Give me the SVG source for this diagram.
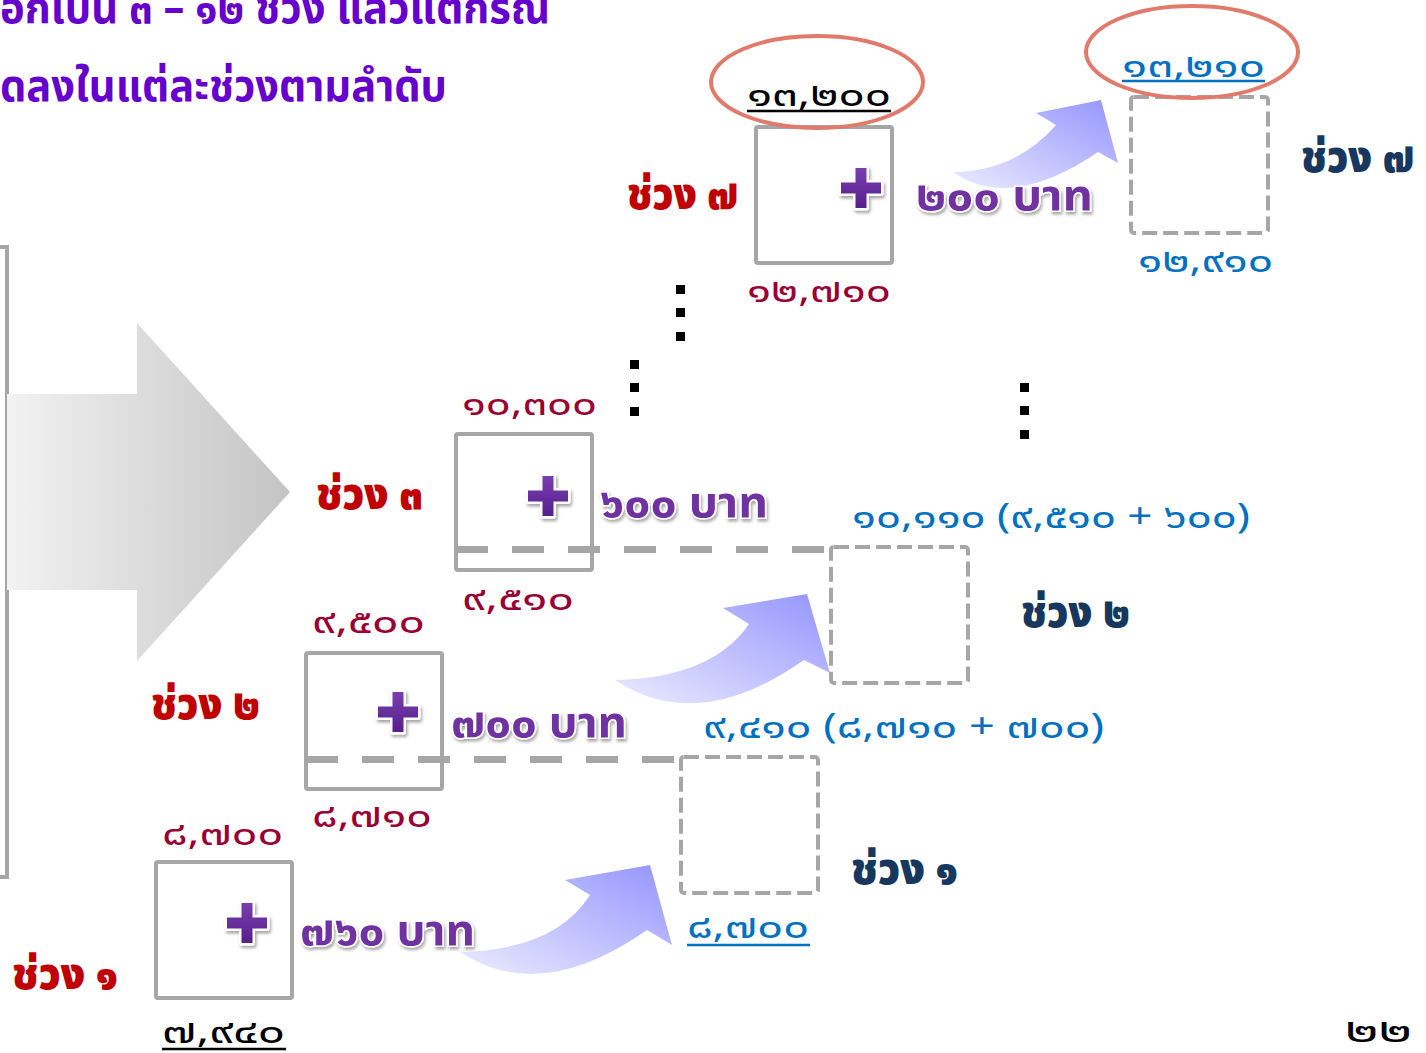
<svg xmlns="http://www.w3.org/2000/svg" width="1426" height="1053" viewBox="0 0 1426 1053">
<defs>
<style>
text{font-family:"Noto Sans Thai","Noto Sans Thai Looped","Loma","Garuda","Tlwg Typo","Noto Sans","DejaVu Sans",sans-serif;}
.title{fill:#6600CC;font-weight:bold;font-size:44px;}
.red{fill:#C00000;font-weight:900;font-size:44px;}
.navy{fill:#17375E;font-weight:900;font-size:44px;}
.mar{fill:#990033;font-size:34px;}
.blk{fill:#000;font-size:34px;}
.blu{fill:#0070C0;font-size:34px;}
.amt{fill:#7030A0;font-weight:bold;font-size:42px;stroke:#fff;stroke-width:3;paint-order:stroke;filter:url(#sh);}
.box{fill:none;stroke:#A6A6A6;stroke-width:4;}
.dbox{fill:none;stroke:#A6A6A6;stroke-width:4;stroke-dasharray:15 6;}
.dline{stroke:#A6A6A6;stroke-width:7;stroke-dasharray:32 24;}
.ell{fill:none;stroke:#E07A6A;stroke-width:4;}
.dot{fill:#000;}
.ul{stroke-width:2.5;}
</style>
<linearGradient id="gArrow" x1="0" y1="0" x2="1" y2="0">
<stop offset="0" stop-color="#F2F2F2"/>
<stop offset="1" stop-color="#C4C4C4"/>
</linearGradient>
<linearGradient id="gBlue" x1="0" y1="1" x2="1" y2="0">
<stop offset="0" stop-color="#EBEBFF"/>
<stop offset="1" stop-color="#9494FF"/>
</linearGradient>
<linearGradient id="gPlus" x1="0" y1="0" x2="0" y2="1">
<stop offset="0" stop-color="#7A3DB0"/>
<stop offset="1" stop-color="#56208A"/>
</linearGradient>
<filter id="sh" x="-20%" y="-20%" width="150%" height="150%">
<feDropShadow dx="1.5" dy="2.5" stdDeviation="1.5" flood-color="#000" flood-opacity="0.35"/>
</filter>
<g id="plus">
<path d="M-5.5,-20H5.5V-5.5H20V5.5H5.5V20H-5.5V5.5H-20V-5.5H-5.5Z" fill="url(#gPlus)" stroke="#fff" stroke-width="5" stroke-linejoin="round" paint-order="stroke" filter="url(#sh)"/>
</g>
</defs>
<rect width="1426" height="1053" fill="#fff"/>

<g id="title">
<text class="title" x="0" y="23" textLength="550" lengthAdjust="spacingAndGlyphs">อกเป็น ๓ – ๑๒ ช่วง แล้วแต่กรณี</text>
<text class="title" x="0" y="101" textLength="447" lengthAdjust="spacingAndGlyphs">ดลงในแต่ละช่วงตามลำดับ</text>
</g>

<g id="bracket">
<path d="M0,247H7V877H0" fill="none" stroke="#A6A6A6" stroke-width="4"/>
</g>

<g id="bigArrow">
<path d="M7,394H137V323L290,492L137,661V590H7Z" fill="url(#gArrow)"/>
</g>

<g id="connectors">
<line class="dline" x1="456" y1="549.5" x2="831" y2="549.5"/>
<line class="dline" x1="306" y1="759.5" x2="681" y2="759.5"/>
<path id="arrow1" d="M460,952Q555,950 590,895L565,880L650,865L672,945L647,930Q540,1005 460,952Z" fill="url(#gBlue)"/>
<path id="arrow2" d="M615,680Q712,678 749,624L723,608L807,594L830,673L804,660Q697,735 615,680Z" fill="url(#gBlue)"/>
<path id="arrow3" d="M953,172Q1016,171 1056,125L1036,113L1101,100L1118,163L1098,152Q1010,212 953,172Z" fill="url(#gBlue)"/>
</g>

<g id="node-step1">
<rect class="box" x="156" y="862" width="136" height="136" rx="2"/>
<use href="#plus" x="247" y="923"/>
<text class="red" x="12" y="989" textLength="106" lengthAdjust="spacingAndGlyphs">ช่วง ๑</text>
<text class="mar" x="162" y="845" textLength="121" lengthAdjust="spacingAndGlyphs">๘,๗๐๐</text>
<text class="blk" x="162" y="1043" font-size="31" textLength="123" lengthAdjust="spacingAndGlyphs">๗,๙๔๐</text>
<line class="ul" x1="162" y1="1049" x2="286" y2="1049" stroke="#000"/>
<text class="amt" x="300" y="945" textLength="175" lengthAdjust="spacingAndGlyphs">๗๖๐ บาท</text>
</g>

<g id="node-step2">
<rect class="box" x="306" y="653" width="136" height="136" rx="2"/>
<use href="#plus" x="398" y="712"/>
<text class="red" x="151" y="719" textLength="109" lengthAdjust="spacingAndGlyphs">ช่วง ๒</text>
<text class="mar" x="312" y="633" textLength="113" lengthAdjust="spacingAndGlyphs">๙,๕๐๐</text>
<text class="mar" x="312" y="827" textLength="120" lengthAdjust="spacingAndGlyphs">๘,๗๑๐</text>
<text class="amt" x="451" y="737" textLength="176" lengthAdjust="spacingAndGlyphs">๗๐๐ บาท</text>
</g>

<g id="node-step3">
<rect class="box" x="456" y="434" width="136" height="136" rx="2"/>
<use href="#plus" x="548" y="496"/>
<text class="red" x="316" y="509" textLength="107" lengthAdjust="spacingAndGlyphs">ช่วง ๓</text>
<text class="mar" x="462" y="415" textLength="135" lengthAdjust="spacingAndGlyphs">๑๐,๓๐๐</text>
<text class="mar" x="462" y="610" textLength="112" lengthAdjust="spacingAndGlyphs">๙,๕๑๐</text>
<text class="amt" x="600" y="517" textLength="168" lengthAdjust="spacingAndGlyphs">๖๐๐ บาท</text>
</g>

<g id="node-step7">
<rect class="box" x="756" y="127" width="136" height="136" rx="2"/>
<use href="#plus" x="861" y="188"/>
<text class="red" x="627" y="209" textLength="111" lengthAdjust="spacingAndGlyphs">ช่วง ๗</text>
<ellipse class="ell" cx="817" cy="82" rx="106" ry="46"/>
<text class="blk" x="747" y="106" textLength="144" lengthAdjust="spacingAndGlyphs">๑๓,๒๐๐</text>
<line class="ul" x1="747" y1="111" x2="891" y2="111" stroke="#000"/>
<text class="mar" x="747" y="302" textLength="144" lengthAdjust="spacingAndGlyphs">๑๒,๗๑๐</text>
<text class="amt" x="916" y="210" textLength="177" lengthAdjust="spacingAndGlyphs">๒๐๐ บาท</text>
</g>

<g id="result-step1">
<rect class="dbox" x="681" y="757" width="137" height="136" rx="3"/>
<text class="navy" x="851" y="884" textLength="107" lengthAdjust="spacingAndGlyphs">ช่วง ๑</text>
<text class="blu" x="703" y="738" textLength="401" lengthAdjust="spacingAndGlyphs">๙,๔๑๐ (๘,๗๑๐ + ๗๐๐)</text>
<text class="blu" x="687" y="938" textLength="122" lengthAdjust="spacingAndGlyphs">๘,๗๐๐</text>
<line class="ul" x1="687" y1="945" x2="810" y2="945" stroke="#0070C0"/>
</g>

<g id="result-step2">
<rect class="dbox" x="831" y="547" width="137" height="136" rx="3"/>
<text class="navy" x="1021" y="627" textLength="109" lengthAdjust="spacingAndGlyphs">ช่วง ๒</text>
<text class="blu" x="852" y="528" textLength="398" lengthAdjust="spacingAndGlyphs">๑๐,๑๑๐ (๙,๕๑๐ + ๖๐๐)</text>
</g>

<g id="result-step7">
<rect class="dbox" x="1131" y="97" width="137" height="136" rx="3"/>
<text class="navy" x="1301" y="172" textLength="113" lengthAdjust="spacingAndGlyphs">ช่วง ๗</text>
<ellipse class="ell" cx="1192" cy="52" rx="106" ry="46"/>
<text class="blu" x="1122" y="77" textLength="143" lengthAdjust="spacingAndGlyphs">๑๓,๒๑๐</text>
<line class="ul" x1="1122" y1="81" x2="1265" y2="81" stroke="#0070C0"/>
<text class="blu" x="1138" y="272" textLength="135" lengthAdjust="spacingAndGlyphs">๑๒,๙๑๐</text>
</g>

<g id="ellipsis">
<rect class="dot" x="676" y="285" width="9" height="9"/>
<rect class="dot" x="676" y="308" width="9" height="9"/>
<rect class="dot" x="676" y="332" width="9" height="9"/>
<rect class="dot" x="630" y="360" width="9" height="9"/>
<rect class="dot" x="630" y="383" width="9" height="9"/>
<rect class="dot" x="630" y="407" width="9" height="9"/>
<rect class="dot" x="1020" y="383" width="9" height="9"/>
<rect class="dot" x="1020" y="406" width="9" height="9"/>
<rect class="dot" x="1020" y="430" width="9" height="9"/>
</g>

<g id="page">
<text class="blk" x="1345" y="1042" font-size="30" textLength="67" lengthAdjust="spacingAndGlyphs">๒๒</text>
</g>
</svg>
